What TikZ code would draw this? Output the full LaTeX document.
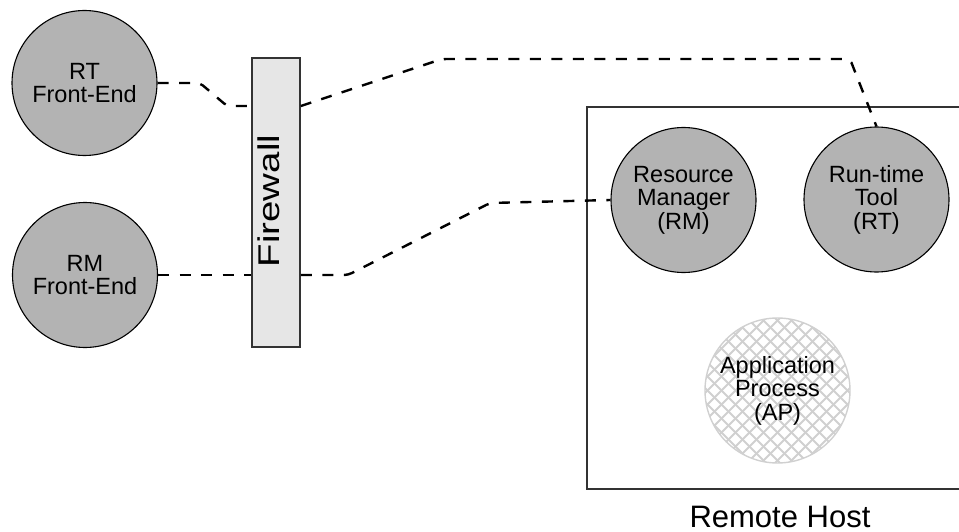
\documentclass[tikz,border=0pt]{standalone}
\usepackage{fontspec}
\setmainfont{Liberation Sans}
\usepackage{graphicx}
\definecolor{circgray}{HTML}{B3B3B3}
\definecolor{fwgray}{HTML}{E6E6E6}
\definecolor{hatchgray}{HTML}{D0D0D0}
\definecolor{boxline}{HTML}{333333}
\tikzset{
  proc/.style={circle, draw=black, line width=1.1pt, fill=circgray, minimum size=145pt, inner sep=0pt, align=center, font=\fontsize{23.5}{23.5}\selectfont},
  hatchline/.style={hatchgray, line width=2pt},
  link/.style={line width=2.4pt, dash pattern=on 11pt off 10.5pt, rounded corners=4pt},
  frame/.style={draw=boxline, line width=1.6pt}
}
\begin{document}
\begin{tikzpicture}[x=1pt,y=-1pt]
\useasboundingbox (0,0) rectangle (959,532);
% remote host box
\draw[frame] (587,107) rectangle (962,489);
\node[font=\fontsize{31}{31}\selectfont, anchor=base] (rhlabel) at (780,527) {Remote Host};
% circles
\node[proc] (rtfe) at (84.5,83) {RT\\Front-End};
\node[proc] (rmfe) at (85,275) {RM\\Front-End};
\node[proc] (rm) at (683.5,200) {Resource\\Manager\\(RM)};
\node[proc] (rt) at (876.5,199.5) {Run-time\\Tool\\(RT)};
% application process (cross-hatched)
\begin{scope}
  \clip (777.5,390.5) circle [radius=72.5pt];
  \foreach \s in {-238,-224,...,238}{
    \draw[hatchline] (777.5+\s-90,390.5-90) -- (777.5+\s+90,390.5+90);
    \draw[hatchline] (777.5+\s+90,390.5-90) -- (777.5+\s-90,390.5+90);
  }
\end{scope}
\node[circle, draw=hatchgray, line width=1.4pt, minimum size=145pt, inner sep=0pt, align=center,
      font=\fontsize{23.5}{23.5}\selectfont] (ap) at (777.5,390.5) {Application\\Process\\(AP)};
% firewall
\node[draw=boxline, line width=1.6pt, fill=fwgray, minimum width=48pt, minimum height=289pt, inner sep=0pt] (fw) at (276,202.5) {};
\node[rotate=90, font=\fontsize{30}{30}\selectfont, inner sep=0pt] (fwlabel) at (269,201) {\scalebox{1.28}[1]{Firewall}};
% connectors
\coordinate (a1) at (200,83);
\coordinate (a2) at (227,106);
\coordinate (a3) at (442,59);
\coordinate (a4) at (850,59);
\coordinate (b1) at (348,275);
\coordinate (b2) at (490,203);
\draw[link] (rtfe.east) -- (a1) -- (a2) -- (fw.west |- a2);
\draw[link] (fw.east |- a2) -- (a3) -- (a4) -- (rt.north);
\draw[link] (rmfe.east) -- (fw.west |- rmfe.east);
\draw[link] (fw.east |- b1) -- (b1) -- (b2) -- (rm.west);
\end{tikzpicture}
\end{document}
